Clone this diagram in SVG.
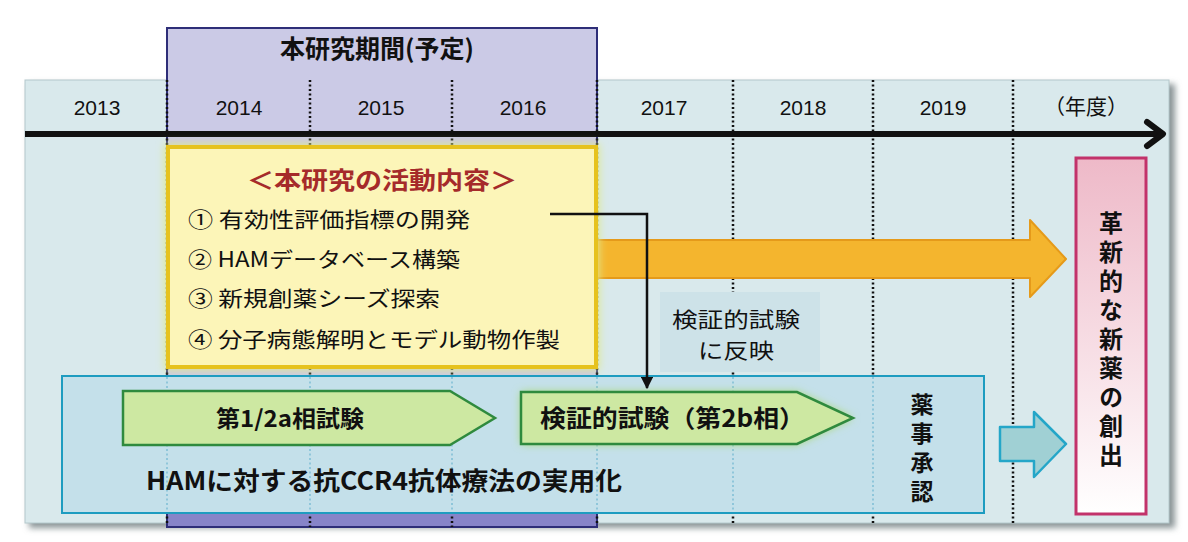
<svg xmlns="http://www.w3.org/2000/svg" width="1188" height="542" viewBox="0 0 1188 542">
<defs>
<style>
.yr{font-family:"Liberation Sans",Arial,sans-serif;font-size:21px;fill:#111;text-anchor:middle}
.jp{font-family:"Noto Sans CJK JP","Noto Sans",sans-serif;fill:#111}
.b{font-weight:bold}
.vert{writing-mode:vertical-rl;text-anchor:middle}
.dot{stroke:#111;stroke-width:2.5;stroke-dasharray:2 2.5;fill:none}
.ldot{stroke:#8fc6da;stroke-width:2;stroke-dasharray:2 2.5;fill:none}
.green{fill:#cde8a2;stroke:#2f8a3e;stroke-width:2.5}
</style>
<linearGradient id="pinkg" x1="0" y1="0" x2="0" y2="1">
<stop offset="0" stop-color="#eeb9c8"/>
<stop offset="0.6" stop-color="#f8e2e8"/>
<stop offset="1" stop-color="#ffffff"/>
</linearGradient>
<filter id="shadow" x="-5%" y="-5%" width="110%" height="115%">
<feGaussianBlur stdDeviation="3"/>
</filter>
<filter id="glow" x="-10%" y="-20%" width="120%" height="140%">
<feGaussianBlur stdDeviation="4"/>
</filter>
<marker id="arr" viewBox="0 0 10 10" refX="9" refY="5" markerWidth="5" markerHeight="5" orient="auto" markerUnits="strokeWidth">
<path d="M0,0 L10,5 L0,10 z" fill="#111"/>
</marker>
</defs>

<!-- background panel -->
<g id="panel">
<rect x="29" y="84" width="1146" height="444" fill="#8a9496" filter="url(#shadow)"/>
<rect x="25" y="80" width="1144" height="443" fill="#d9e9ec" stroke="#b4c8cc" stroke-width="1"/>
</g>

<!-- research period (purple) -->
<g id="period">
<rect x="167" y="28" width="430" height="499" fill="#cbcae6" stroke="#2e2e78" stroke-width="2"/>
<rect x="167" y="513" width="430" height="14" fill="#8784c8" stroke="#2e2e78" stroke-width="2"/>
<text class="jp b" x="377" y="58" font-size="25" text-anchor="middle">本研究期間(予定)</text>
</g>

<!-- dotted year separators -->
<g id="grid">
<line class="dot" x1="167" y1="80" x2="167" y2="523"/>
<line class="dot" x1="310" y1="80" x2="310" y2="527"/>
<line class="dot" x1="452" y1="80" x2="452" y2="527"/>
<line class="dot" x1="597" y1="80" x2="597" y2="523"/>
<line class="dot" x1="733" y1="80" x2="733" y2="523"/>
<line class="dot" x1="873" y1="80" x2="873" y2="523"/>
<line class="dot" x1="1013" y1="80" x2="1013" y2="523"/>
</g>

<!-- years -->
<g id="years">
<text class="yr" x="97" y="115">2013</text>
<text class="yr" x="239" y="115">2014</text>
<text class="yr" x="381" y="115">2015</text>
<text class="yr" x="523" y="115">2016</text>
<text class="yr" x="664" y="115">2017</text>
<text class="yr" x="803" y="115">2018</text>
<text class="yr" x="943" y="115">2019</text>
<text class="jp" x="1086" y="114" font-size="21" text-anchor="middle">（年度）</text>
</g>

<!-- time axis -->
<g id="axis">
<line x1="25" y1="134" x2="1160" y2="134" stroke="#111" stroke-width="6"/>
<polyline points="1147,122 1163,134 1147,146" fill="none" stroke="#111" stroke-width="6" stroke-linecap="round" stroke-linejoin="round"/>
</g>

<!-- orange arrow -->
<g id="orange-arrow">
<polygon points="560,240 1030,240 1030,220 1066,259 1030,297 1030,278 560,278" fill="#f4b52e" stroke="#e59a1a" stroke-width="2" stroke-linejoin="round"/>
</g>

<!-- activity box -->
<g id="activities">
<rect x="165" y="144" width="434" height="226" fill="#dfe88a" filter="url(#glow)"/>
<rect x="168" y="147" width="428" height="220" fill="#fcf5b8" stroke="#e6c21e" stroke-width="4"/>
<text class="jp b" x="247" y="189" font-size="24" style="fill:#a52a2a" textLength="270" lengthAdjust="spacingAndGlyphs">＜本研究の活動内容＞</text>
<text class="jp" x="188" y="227" font-size="21" textLength="282" lengthAdjust="spacingAndGlyphs">① 有効性評価指標の開発</text>
<text class="jp" x="188" y="267" font-size="21" textLength="272" lengthAdjust="spacingAndGlyphs">② HAMデータベース構築</text>
<text class="jp" x="188" y="306" font-size="21" textLength="252" lengthAdjust="spacingAndGlyphs">③ 新規創薬シーズ探索</text>
<text class="jp" x="188" y="347" font-size="21" textLength="372" lengthAdjust="spacingAndGlyphs">④ 分子病態解明とモデル動物作製</text>
</g>

<!-- reflection label -->
<g id="reflect-label">
<rect x="660" y="292" width="160" height="80" fill="#cde2e8"/>
<text class="jp" x="736" y="327" font-size="21" text-anchor="middle" textLength="128" lengthAdjust="spacingAndGlyphs">検証的試験</text>
<text class="jp" x="736" y="358" font-size="21" text-anchor="middle" textLength="76" lengthAdjust="spacingAndGlyphs">に反映</text>
</g>

<!-- practical application box -->
<g id="application">
<rect x="62" y="376" width="922" height="137" fill="#c4e0ea" stroke="#1e9cc0" stroke-width="2"/>
<line class="ldot" x1="167" y1="377" x2="167" y2="512"/>
<line class="ldot" x1="310" y1="377" x2="310" y2="512"/>
<line class="ldot" x1="452" y1="377" x2="452" y2="512"/>
<line class="ldot" x1="597" y1="377" x2="597" y2="512"/>
<line class="ldot" x1="733" y1="377" x2="733" y2="512"/>
<line class="ldot" x1="873" y1="377" x2="873" y2="512"/>
<text class="jp b" x="146" y="490" font-size="25" textLength="476" lengthAdjust="spacingAndGlyphs">HAMに対する抗CCR4抗体療法の実用化</text>
<text class="jp b vert" x="922" y="451" font-size="23" letter-spacing="6">薬事承認</text>
</g>

<!-- phase 1/2a -->
<g id="phase12a">
<polygon class="green" points="123,391 450,391 495,418 450,445 123,445"/>
<text class="jp b" x="290" y="427" font-size="23" text-anchor="middle" textLength="148" lengthAdjust="spacingAndGlyphs">第1/2a相試験</text>
</g>

<!-- phase 2b -->
<g id="phase2b">
<polygon points="521,392 797,392 853,418 797,444 521,444" fill="#a8d86a" filter="url(#glow)"/>
<polygon class="green" points="521,392 797,392 853,418 797,444 521,444"/>
<text class="jp b" x="540" y="427" font-size="24" textLength="265" lengthAdjust="spacingAndGlyphs">検証的試験（第2b相）</text>
</g>

<!-- cyan arrow -->
<g id="cyan-arrow">
<polygon points="1000,427 1034,427 1034,412 1066,444 1034,477 1034,461 1000,461" fill="#a0d0d4" stroke="#24a6c8" stroke-width="2.5" stroke-linejoin="round"/>
</g>

<!-- innovative drug -->
<g id="innovation">
<rect x="1076" y="158" width="70" height="356" fill="url(#pinkg)" stroke="#c2326a" stroke-width="3"/>
<text class="jp b vert" x="1111" y="341" font-size="24" letter-spacing="5">革新的な新薬の創出</text>
</g>

<!-- connector -->
<g id="connectors">
<polyline points="550,214 647,214 647,388" fill="none" stroke="#111" stroke-width="2.5" marker-end="url(#arr)"/>
</g>
</svg>
